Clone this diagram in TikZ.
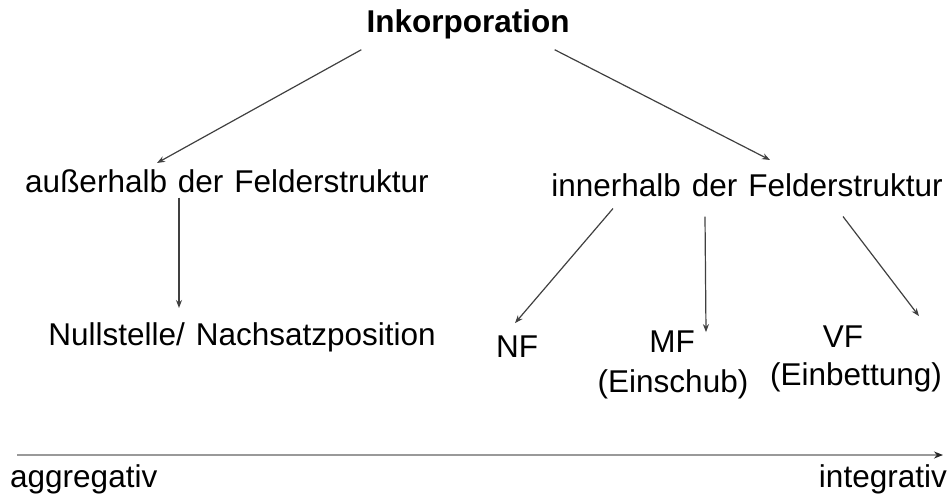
\documentclass[tikz,border=0pt]{standalone}
\usepackage{fontspec}
\setmainfont[WordSpace=1.25]{Liberation Sans}
\usetikzlibrary{arrows.meta, calc}

\begin{document}
\begin{tikzpicture}[x=1pt, y=-1pt, >={Stealth[length=8pt, width=6pt]},
    font=\fontsize{31.5pt}{37pt}\selectfont,
    lbl/.style={inner sep=0pt, anchor=base},
    pfeil/.style={->, line width=1.2pt, black!75}]
    \useasboundingbox (0,0) rectangle (949,496);

    % Oberbegriff
    \node[lbl, font=\fontsize{31.5pt}{37pt}\selectfont\bfseries] (inkorp) at (468,32) {Inkorporation};

    % zweite Ebene
    \node[lbl] (aus) at (227,192) {außerhalb der Felderstruktur};
    \node[lbl] (inner) at (747,196) {innerhalb der Felderstruktur};

    % dritte Ebene
    \node[lbl] (null) at (242,345) {Nullstelle/ Nachsatzposition};
    \node[lbl] (nf) at (517,357) {NF};
    \node[lbl] (mf) at (672,352) {MF};
    \node[lbl] (mfzusatz) at (673,392) {(Einschub)};
    \node[lbl] (vf) at (843,347) {VF};
    \node[lbl] (vfzusatz) at (856,385) {(Einbettung)};

    % Pfeile
    \draw[pfeil] ($(inkorp.south west)+(-5,11)$) -- ($(aus.north)+(-70,-6)$);
    \draw[pfeil] ($(inkorp.south east)+(-15,11)$) -- ($(inner.north)+(23,-13)$);
    \draw[pfeil] ($(aus.south)+(-48,5)$) -- ($(null.north)+(-63,-14)$);
    \draw[pfeil] ($(inner.south)+(-134,12)$) -- ($(nf.north)+(-2,-12)$);
    \draw[pfeil] ($(inner.south)+(-42,20)$) -- ($(mf.north)+(34,2)$);
    \draw[pfeil] ($(inner.south)+(96,20)$) -- ($(vf.north)+(76,-9)$);

    % Skala unten
    \coordinate (links) at (17,455);
    \coordinate (rechts) at (943,455);
    \draw[line width=2.8pt, black!40, -{Stealth[length=9pt, width=7pt, black!85]}] (links) -- (rechts);
    \node[lbl, anchor=base west] (aggr) at (10,487) {aggregativ};
    \node[lbl, anchor=base east] (integr) at (947,487) {integrativ};
\end{tikzpicture}
\end{document}
